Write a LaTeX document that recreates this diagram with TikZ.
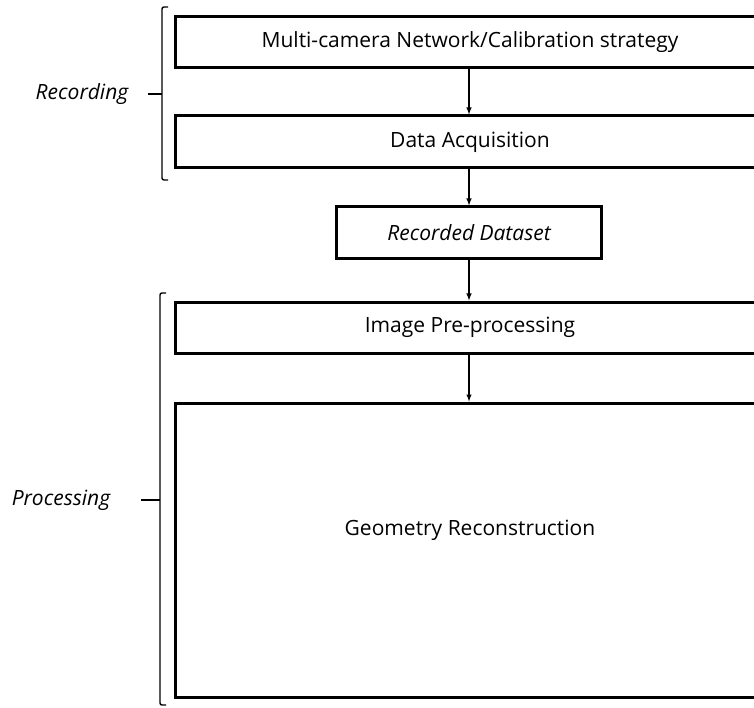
\documentclass[tikz,border=0pt]{standalone}
\usepackage{fontspec}
\setmainfont{Open Sans}
\usetikzlibrary{calc}

\tikzset{
  stage/.style={draw, line width=3pt, minimum width=590pt, inner sep=0pt},
  flow/.style={-latex, line width=1.4pt},
  bracket/.style={line width=1.4pt, rounded corners=2pt}
}

\begin{document}
\begin{tikzpicture}[x=1pt, y=-1pt, font=\fontsize{21}{25}\selectfont]
  \useasboundingbox (0, 0) rectangle (754, 708);
  \clip (0, 0) rectangle (754, 708);

  \node (net) at (470, 42.5) [stage, minimum height=51pt] {Multi-camera Network/Calibration strategy};
  \node (acq) at (470, 142)  [stage, minimum height=52pt] {Data Acquisition};
  \node (rec) at (469, 233)  [stage, minimum width=265pt, minimum height=52pt] {\itshape Recorded Dataset};
  \node (pre) at (470, 327.5) [stage, minimum height=51pt] {Image Pre-processing};
  \node (geo) at (470, 550)  [stage, minimum height=294pt,
    label={[yshift=20pt]center:Geometry Reconstruction}] {};

  \draw[flow] (net.south -| rec) -- (acq.north -| rec);
  \draw[flow] (acq.south -| rec) -- (rec.north);
  \draw[flow] (rec.south) -- (pre.north -| rec);
  \draw[flow] (pre.south -| rec) -- (geo.north -| rec);

  % group brackets
  \draw[bracket] (168, 7) -- (162, 7) -- (162, 180) -- (168, 180);
  \draw[line width=1.4pt] (148, 94) -- (162, 94);
  \node (recording) at (82, 94) {\itshape Recording};

  \draw[bracket] (166, 293) -- (160, 293) -- (160, 705) -- (166, 705);
  \draw[line width=1.4pt] (141, 500) -- (160, 500);
  \node (processing) at (61, 500) {\itshape Processing};
\end{tikzpicture}
\end{document}
